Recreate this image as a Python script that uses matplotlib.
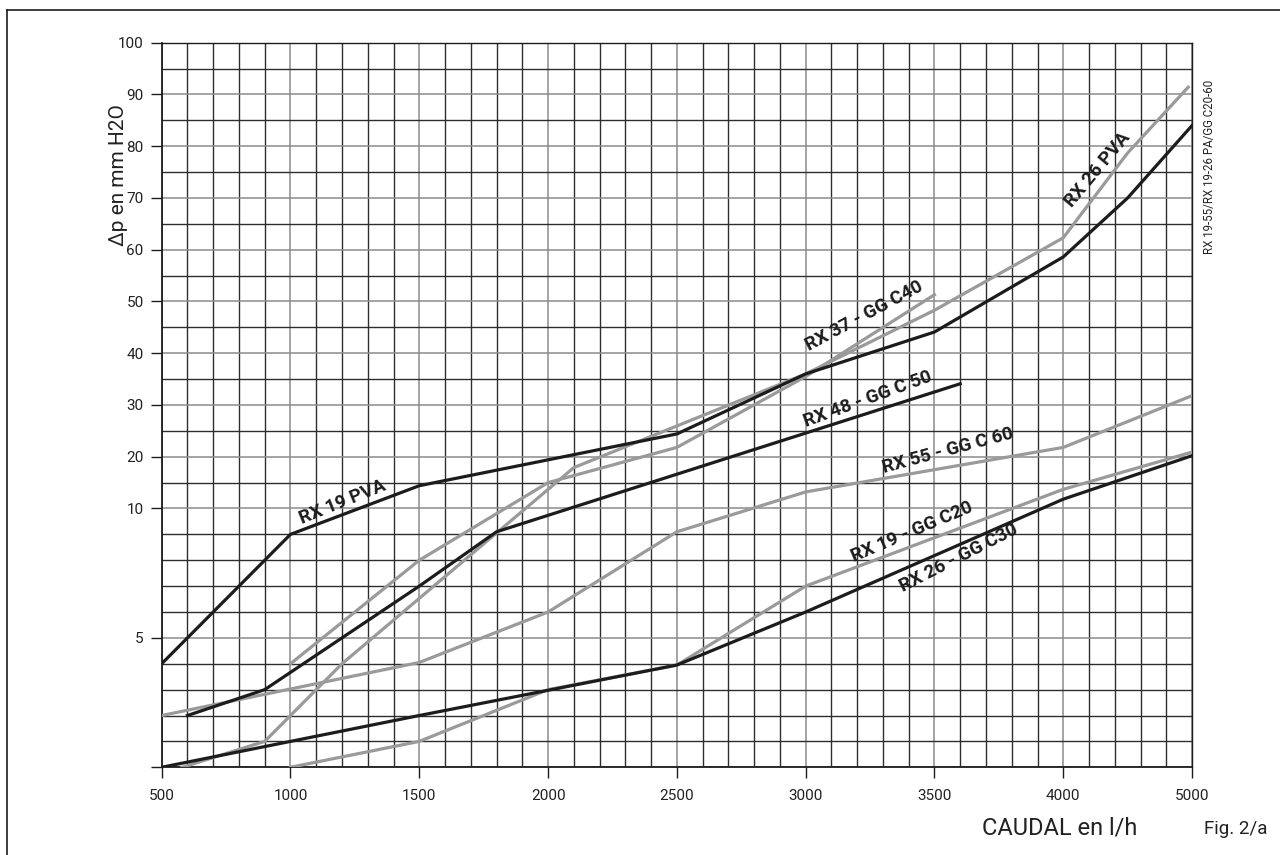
import numpy as np
import matplotlib
matplotlib.use("Agg")
import matplotlib.pyplot as plt
from matplotlib.lines import Line2D

plt.rcParams['font.family'] = ['Roboto', 'DejaVu Sans']

# curves (x = caudal l/h, y = mm H2O)
rx19_pva_x = [500, 1000, 1500, 2500, 3000, 3500, 4000, 4500, 5000]
rx19_pva_y = [4, 9, 14.4, 24.4, 36, 44.1, 58.6, 70, 84]

rx26_pva_x = [580, 900, 1200, 2100, 3000, 3500, 4000, 4500, 4970]
rx26_pva_y = [0, 1, 4, 17.9, 36, 48.3, 62.3, 78.7, 91.4]

rx37_x = [1000, 1500, 2000, 2500, 3000, 3500]
rx37_y = [4, 8, 15, 21.8, 35.5, 51.3]

rx48_x = [600, 900, 1500, 1800, 3600]
rx48_y = [2, 3, 7, 9.1, 34.1]

rx55_x = [500, 1500, 2000, 2500, 3000, 4000, 5000]
rx55_y = [2, 4.05, 6, 9.1, 13.2, 21.8, 31.8]

rx19_c20_x = [1000, 1500, 2000, 2500, 3000, 4000, 5000]
rx19_c20_y = [0, 1, 3, 3.95, 7, 13.7, 20.9]

rx26_c30_x = [500, 1500, 2500, 3000, 4000, 5000]
rx26_c30_y = [0, 2, 3.95, 6, 11.8, 20.2]

x_ticks = [500, 1000, 1500, 2000, 2500, 3000, 3500, 4000, 5000]
y_ticks = [0, 5, 10, 20, 30, 40, 50, 60, 70, 80, 90, 100]
y_labels = ["", "5", "10", "20", "30", "40", "50", "60", "70", "80", "90", "100"]

BLACK = "#1c1c1c"
GREY = "#9a9a9a"


# the paper scale is not linear: last x step 4000->5000 is squeezed,
# and below 10 each grid row is 1 unit, above 10 each row is 5 units
def x_fwd(x):
    x = np.asarray(x, dtype=float)
    return np.where(x <= 4000, x, 4000 + (x - 4000) / 2)

def x_inv(p):
    p = np.asarray(p, dtype=float)
    return np.where(p <= 4000, p, 4000 + (p - 4000) * 2)

def y_fwd(y):
    y = np.asarray(y, dtype=float)
    return np.where(y <= 10, y, 10 + (y - 10) / 5)

def y_inv(p):
    p = np.asarray(p, dtype=float)
    return np.where(p <= 10, p, 10 + (p - 10) * 5)


fig = plt.figure(figsize=(12.8, 8.55), dpi=100)
ax = fig.add_axes([0.1263, 0.1026, 0.8050, 0.8475])
ax.set_xscale('function', functions=(x_fwd, x_inv))
ax.set_yscale('function', functions=(y_fwd, y_inv))
ax.set_xlim(500, 5000)
ax.set_ylim(0, 100)

# grid: labelled lines grey, the rest dark
x_minor = list(range(600, 4000, 100)) + [4200, 4400, 4600, 4800]
x_minor = [v for v in x_minor if v not in x_ticks]
y_minor = [1, 2, 3, 4, 6, 7, 8, 9] + list(range(15, 100, 10))
ax.set_xticks(x_ticks)
ax.set_xticklabels([str(v) for v in x_ticks])
ax.set_xticks(x_minor, minor=True)
ax.set_yticks(y_ticks)
ax.set_yticklabels(y_labels)
ax.set_yticks(y_minor, minor=True)
ax.grid(True, which='major', color="#8c8c8c", lw=1.1)
ax.grid(True, which='minor', color="#2e2e2e", lw=1.0)
ax.set_axisbelow(True)

ax.tick_params(which='major', length=8, width=1.0, color=BLACK,
               labelsize=11, labelcolor="#222222")
ax.tick_params(axis='x', which='major', pad=8)
ax.tick_params(axis='y', which='major', pad=5)
ax.tick_params(which='minor', length=0)
for s in ax.spines.values():
    s.set_color(BLACK)
    s.set_linewidth(1.0)
ax.spines['left'].set_linewidth(1.3)
ax.spines['bottom'].set_linewidth(1.3)

# grey curves first, black ones on top
lw = 2.3
ax.plot(rx26_pva_x, rx26_pva_y, color=GREY, lw=lw, zorder=3)
ax.plot(rx37_x, rx37_y, color=GREY, lw=lw, zorder=3)
ax.plot(rx55_x, rx55_y, color=GREY, lw=lw, zorder=3)
ax.plot(rx19_c20_x, rx19_c20_y, color=GREY, lw=lw, zorder=3)
ax.plot(rx19_pva_x, rx19_pva_y, color=BLACK, lw=lw, zorder=4)
ax.plot(rx48_x, rx48_y, color=BLACK, lw=lw, zorder=4)
ax.plot(rx26_c30_x, rx26_c30_y, color=BLACK, lw=lw, zorder=4)

# curve names
labels = [
    ("RX 19 PVA", 1204, 11.2, 22),
    ("RX 37 - GG C40", 3229, 47.1, 28),
    ("RX 26 PVA", 4266, 75.4, 50),
    ("RX 48 - GG C 50", 3241, 31.2, 20),
    ("RX 55 - GG C 60", 3551, 21.1, 15),
    ("RX 19 - GG C20", 3411, 9.1, 23),
    ("RX 26 - GG C30", 3594, 8.1, 27),
]
for txt, lx, ly, rot in labels:
    ax.text(lx, ly, txt, rotation=rot, rotation_mode='anchor', ha='center',
            va='center', fontsize=13.5, fontweight='bold', color=BLACK, zorder=5)

fig.text(118 / 1280, 1 - 175 / 855, "Δp en mm H2O", rotation=90,
         ha='center', va='center', fontsize=15, color="#222222")
fig.text(1060 / 1280, 1 - 828 / 855, "CAUDAL en l/h", ha='center',
         va='center', fontsize=17, color="#222222")
fig.text(1236 / 1280, 1 - 829 / 855, "Fig. 2/a", ha='center',
         va='center', fontsize=13.5, color="#222222")
fig.text(1209 / 1280, 1 - 167 / 855, "RX 19-55/RX 19-26 PA/GG C20-60",
         rotation=90, ha='center', va='center', fontsize=8.3, color="#222222")

# page frame (left and top edges)
fig.add_artist(Line2D([7.3 / 1280, 7.3 / 1280], [0, 1 - 10 / 855],
                      transform=fig.transFigure, color=BLACK, lw=1.2))
fig.add_artist(Line2D([7.3 / 1280, 1], [1 - 10 / 855, 1 - 10 / 855],
                      transform=fig.transFigure, color=BLACK, lw=1.2))

fig.savefig("out.png", dpi=100)
